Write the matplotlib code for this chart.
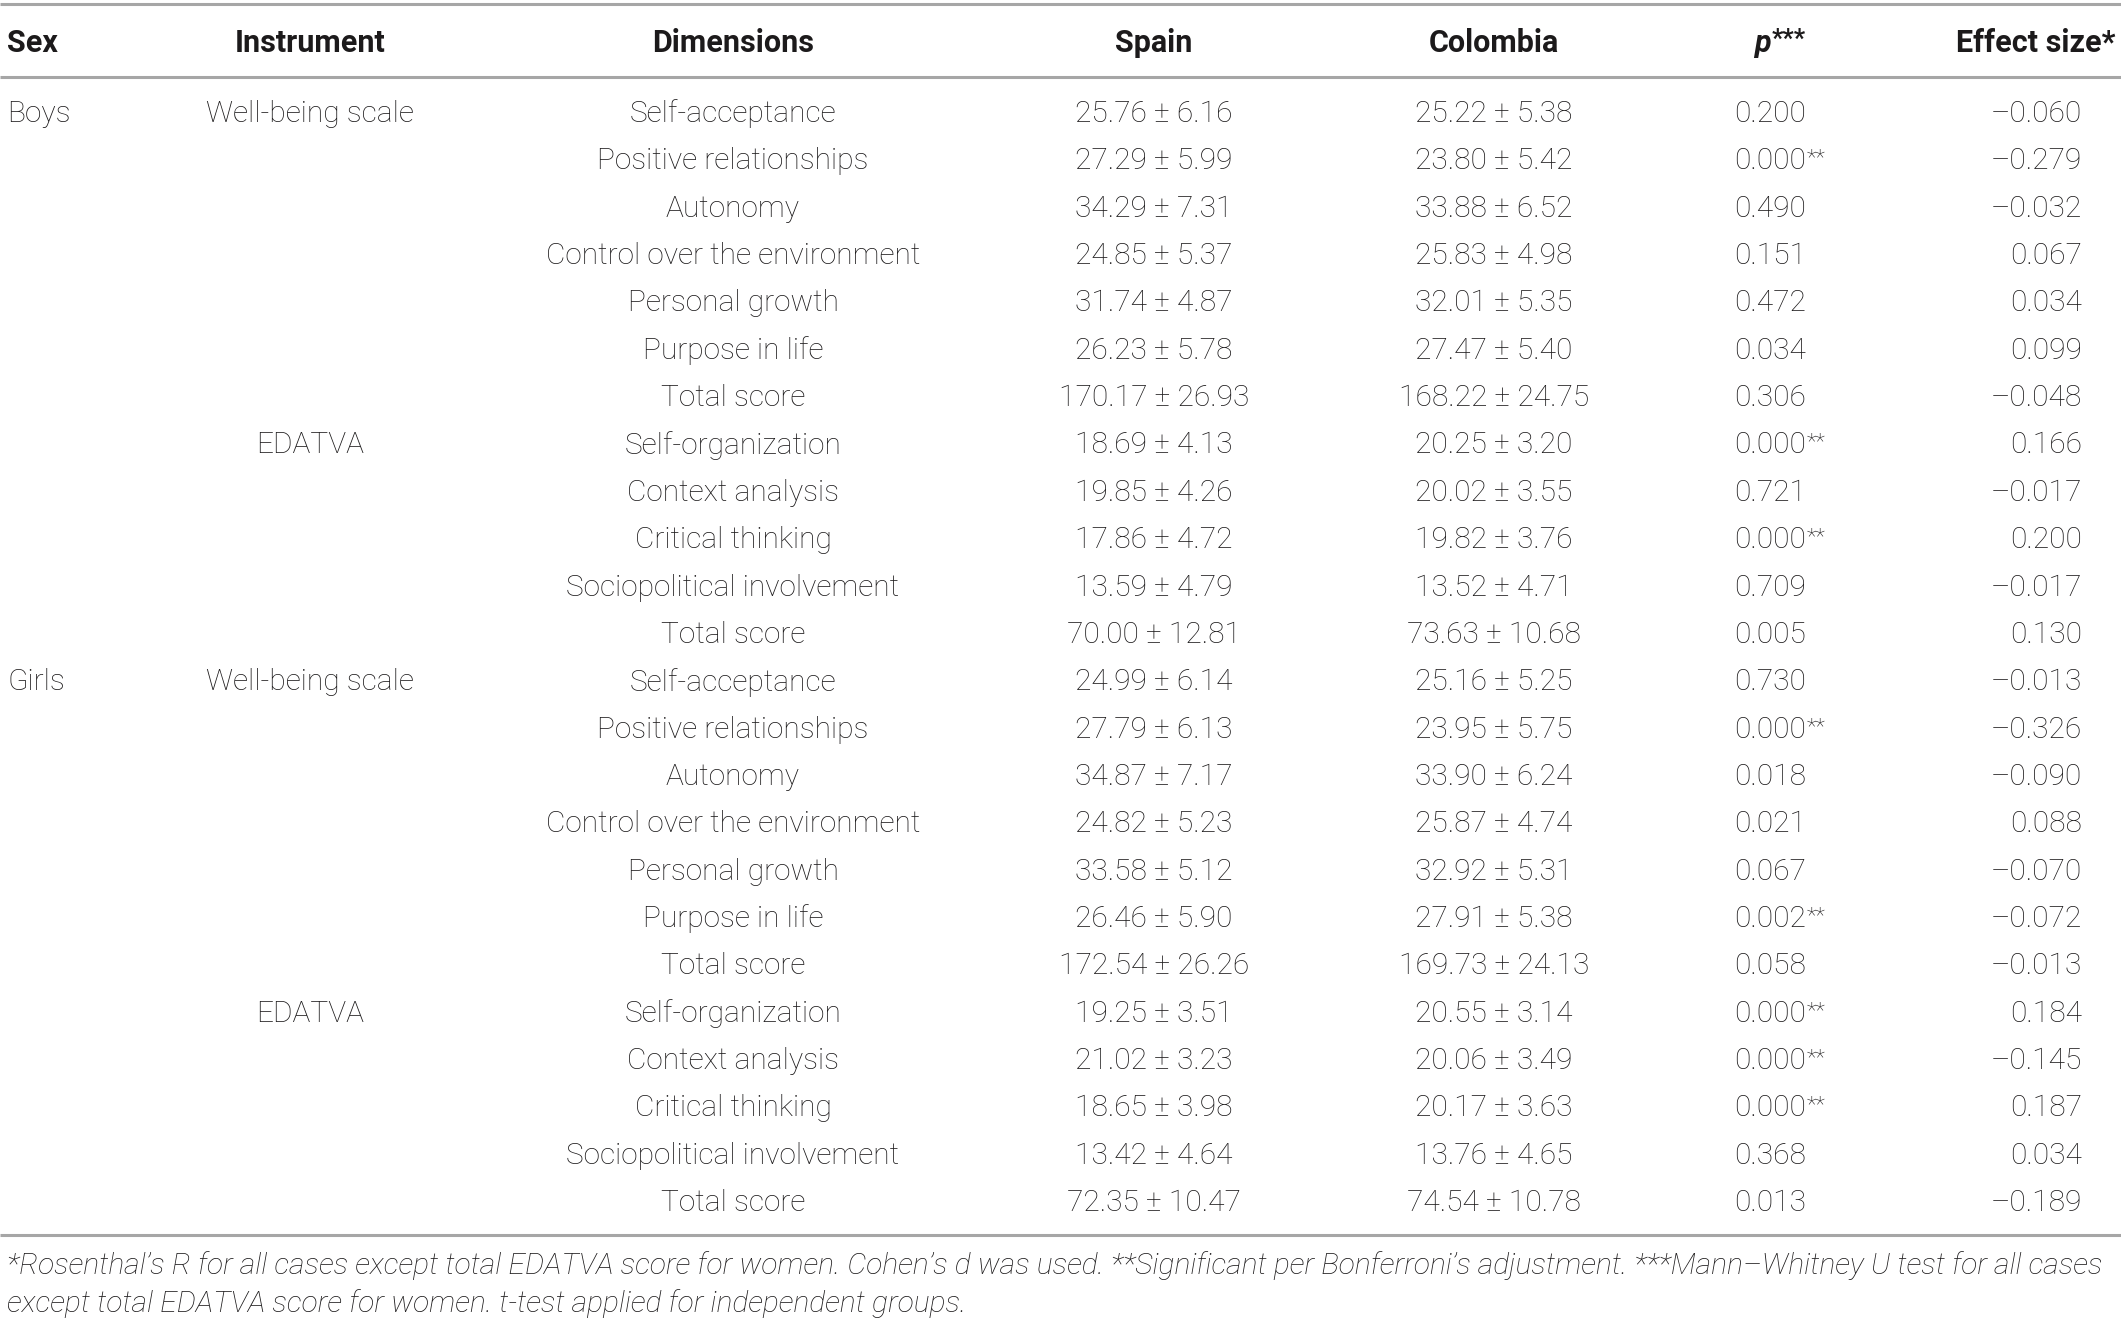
import matplotlib
matplotlib.use("Agg")
import matplotlib.pyplot as plt

# ---- data ----
headers = ["Sex", "Instrument", "Dimensions", "Spain", "Colombia", "p***", "Effect size*"]
sex = ["Boys"] + [""] * 11 + ["Girls"] + [""] * 11
instrument = (["Well-being scale"] + [""] * 6 + ["EDATVA"] + [""] * 4) * 2
dimensions = ["Self-acceptance", "Positive relationships", "Autonomy",
              "Control over the environment", "Personal growth", "Purpose in life",
              "Total score", "Self-organization", "Context analysis",
              "Critical thinking", "Sociopolitical involvement", "Total score"] * 2
spain_mean = [25.76, 27.29, 34.29, 24.85, 31.74, 26.23, 170.17, 18.69, 19.85, 17.86, 13.59, 70.00,
              24.99, 27.79, 34.87, 24.82, 33.58, 26.46, 172.54, 19.25, 21.02, 18.65, 13.42, 72.35]
spain_sd = [6.16, 5.99, 7.31, 5.37, 4.87, 5.78, 26.93, 4.13, 4.26, 4.72, 4.79, 12.81,
            6.14, 6.13, 7.17, 5.23, 5.12, 5.90, 26.26, 3.51, 3.23, 3.98, 4.64, 10.47]
col_mean = [25.22, 23.80, 33.88, 25.83, 32.01, 27.47, 168.22, 20.25, 20.02, 19.82, 13.52, 73.63,
            25.16, 23.95, 33.90, 25.87, 32.92, 27.91, 169.73, 20.55, 20.06, 20.17, 13.76, 74.54]
col_sd = [5.38, 5.42, 6.52, 4.98, 5.35, 5.40, 24.75, 3.20, 3.55, 3.76, 4.71, 10.68,
          5.25, 5.75, 6.24, 4.74, 5.31, 5.38, 24.13, 3.14, 3.49, 3.63, 4.65, 10.78]
p_values = [0.200, 0.000, 0.490, 0.151, 0.472, 0.034, 0.306, 0.000, 0.721, 0.000, 0.709, 0.005,
            0.730, 0.000, 0.018, 0.021, 0.067, 0.002, 0.058, 0.000, 0.000, 0.000, 0.368, 0.013]
p_sig = [False, True, False, False, False, False, False, True, False, True, False, False,
         False, True, False, False, False, True, False, True, True, True, False, False]
effect = [-0.060, -0.279, -0.032, 0.067, 0.034, 0.099, -0.048, 0.166, -0.017, 0.200, -0.017, 0.130,
          -0.013, -0.326, -0.090, 0.088, -0.070, -0.072, -0.013, 0.184, -0.145, 0.187, 0.034, -0.189]
footnote = ["*Rosenthal\u2019s R for all cases except total EDATVA score for women. Cohen\u2019s d was used. "
            "**Significant per Bonferroni\u2019s adjustment. ***Mann\u2013Whitney U test for all cases",
            "except total EDATVA score for women. t-test applied for independent groups."]

# ---- layout ----
W, H = 2121, 1322
fig = plt.figure(figsize=(W / 100, H / 100), dpi=100)
ax = fig.add_axes([0, 0, 1, 1])
ax.set_xlim(0, W)
ax.set_ylim(H, 0)
ax.axis("off")

FONT = "Roboto"
TXT = "#1c1a1b"
LINE = "#a6a6a6"
FS = 21.5

# rules
for y in (4, 77, 1235):
    ax.plot([0, W], [y, y], color=LINE, lw=2.2, solid_capstyle="butt")

# header
hy = 43
hk = dict(fontfamily=FONT, fontweight="bold", fontsize=22, color=TXT, va="center")
ax.text(7, hy, headers[0], ha="left", **hk)
ax.text(310, hy, headers[1], ha="center", **hk)
ax.text(733, hy, headers[2], ha="center", **hk)
ax.text(1154, hy, headers[3], ha="center", **hk)
ax.text(1494, hy, headers[4], ha="center", **hk)
ax.text(1762, hy, "p", ha="center", fontstyle="italic", **hk)
ax.text(1772, hy - 3, "***", ha="left", **{**hk, "fontsize": 18})
ax.text(2116, hy, headers[6], ha="right", **hk)

# body
y0, dy = 114, 47.35
bk = dict(fontfamily=FONT, fontweight="light", fontsize=FS, color=TXT, va="center")
for i in range(len(dimensions)):
    y = y0 + i * dy
    if sex[i]:
        ax.text(7, y, sex[i], ha="left", **bk)
    if instrument[i]:
        ax.text(310, y, instrument[i], ha="center", **bk)
    ax.text(733, y, dimensions[i], ha="center", **bk)
    ax.text(1154, y, f"{spain_mean[i]:.2f} \u00b1 {spain_sd[i]:.2f}", ha="center", **bk)
    ax.text(1494, y, f"{col_mean[i]:.2f} \u00b1 {col_sd[i]:.2f}", ha="center", **bk)
    t = ax.text(1734, y, f"{p_values[i]:.3f}", ha="left", **bk)
    if p_sig[i]:
        ax.annotate("**", xy=(1, 1), xycoords=t, xytext=(0.5, -1), textcoords="offset points",
                    ha="left", va="top", fontfamily=FONT, fontweight="light",
                    fontsize=FS * 0.75, color=TXT)
    e = effect[i]
    es = f"{abs(e):.3f}"
    if e < 0:
        es = "\u2013" + es
    ax.text(2082, y, es, ha="right", **bk)

# footnote
fk = dict(fontfamily=FONT, fontweight="light", fontstyle="italic", fontsize=21.6,
          color=TXT, va="center", ha="left")
ax.text(7, 1266, footnote[0], **fk)
ax.text(7, 1304, footnote[1], **fk)

fig.savefig("out.png", dpi=100, facecolor="white")
